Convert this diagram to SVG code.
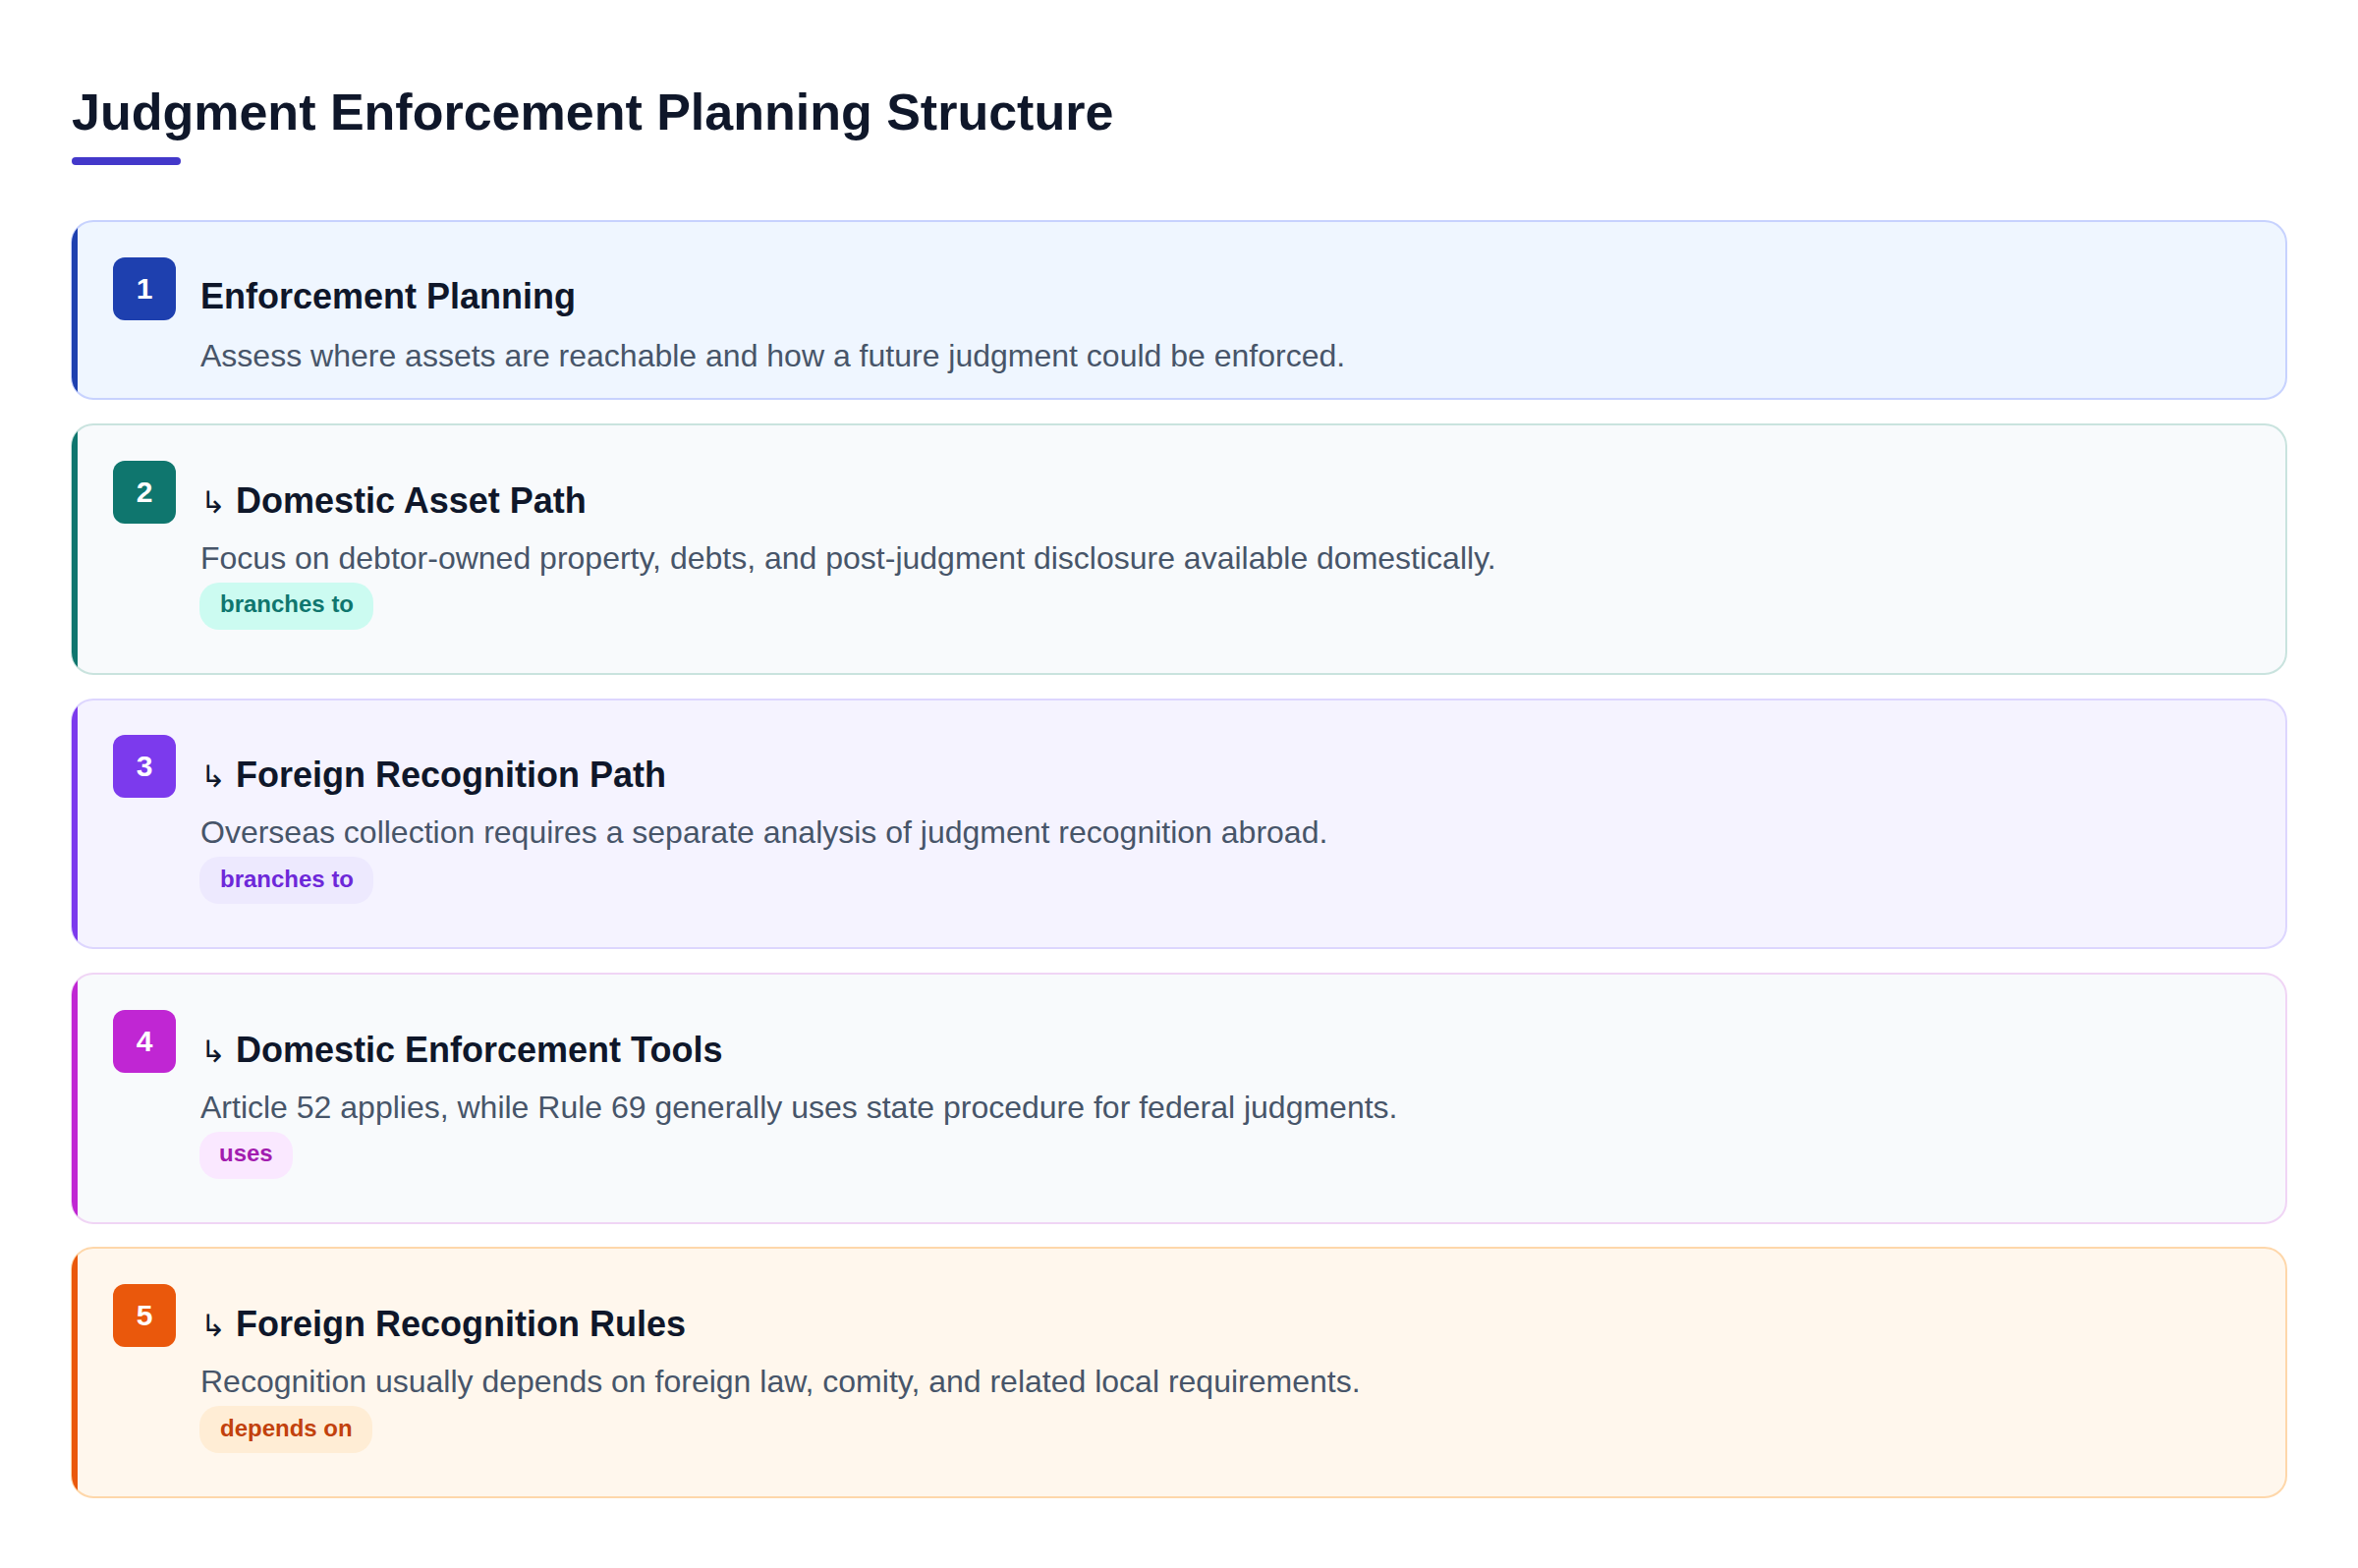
<svg xmlns="http://www.w3.org/2000/svg" width="2400" height="1596" viewBox="0 0 2400 1596">
<style>
.title{font-family:"Liberation Sans",Arial,sans-serif;font-weight:700;font-size:52px;fill:#0f172a}
.ntitle{font-family:"Liberation Sans",Arial,sans-serif;font-weight:700;font-size:36px;fill:#0f172a}
.arr{font-weight:400;font-size:31px}
.desc{font-family:"Liberation Sans",Arial,sans-serif;font-size:32px;fill:#475569}
.num{font-family:"Liberation Sans",Arial,sans-serif;font-weight:700;font-size:30px;fill:#ffffff;text-anchor:middle}
.pill{font-family:"Liberation Sans",Arial,sans-serif;font-weight:700;font-size:24px}
.card{stroke-width:2}
</style>
<defs>
<clipPath id="c1"><rect x="73" y="225" width="2254" height="181" rx="22"/></clipPath>
<clipPath id="c2"><rect x="73" y="432" width="2254" height="254" rx="22"/></clipPath>
<clipPath id="c3"><rect x="73" y="712" width="2254" height="253" rx="22"/></clipPath>
<clipPath id="c4"><rect x="73" y="991" width="2254" height="254" rx="22"/></clipPath>
<clipPath id="c5"><rect x="73" y="1270" width="2254" height="254" rx="22"/></clipPath>
</defs>
<rect width="2400" height="1596" fill="#ffffff"/>
<g id="header">
<text class="title" x="73" y="132">Judgment Enforcement Planning Structure</text>
<rect x="73" y="160" width="111" height="8" rx="4" fill="#4338ca"/>
</g>
<g id="connectors"></g>
<g id="node-1">
<rect class="card" x="73" y="225" width="2254" height="181" rx="22" fill="#eff6ff" stroke="#c7d2fe"/>
<rect x="72" y="224" width="7" height="184" fill="#1e40af" clip-path="url(#c1)"/>
<rect x="115" y="262" width="64" height="64" rx="12" fill="#1e40af"/>
<text class="num" x="147" y="304">1</text>
<text class="ntitle" x="204" y="314">Enforcement Planning</text>
<text class="desc" x="204" y="373">Assess where assets are reachable and how a future judgment could be enforced.</text>
</g>
<g id="node-2">
<rect class="card" x="73" y="432" width="2254" height="254" rx="22" fill="#f8fafc" stroke="#c9e3de"/>
<rect x="72" y="431" width="7" height="257" fill="#0f766e" clip-path="url(#c2)"/>
<rect x="115" y="469" width="64" height="64" rx="12" fill="#0f766e"/>
<text class="num" x="147" y="511">2</text>
<text class="ntitle" x="204" y="522"><tspan class="arr">↳</tspan> Domestic Asset Path</text>
<text class="desc" x="204" y="579">Focus on debtor-owned property, debts, and post-judgment disclosure available domestically.</text>
<rect x="203" y="593" width="177" height="48" rx="20" fill="#ccfbf1"/>
<text class="pill" x="224" y="623" fill="#0f766e">branches to</text>
</g>
<g id="node-3">
<rect class="card" x="73" y="712" width="2254" height="253" rx="22" fill="#f5f3ff" stroke="#ddd6fe"/>
<rect x="72" y="711" width="7" height="256" fill="#7c3aed" clip-path="url(#c3)"/>
<rect x="115" y="748" width="64" height="64" rx="12" fill="#7c3aed"/>
<text class="num" x="147" y="790">3</text>
<text class="ntitle" x="204" y="801"><tspan class="arr">↳</tspan> Foreign Recognition Path</text>
<text class="desc" x="204" y="858">Overseas collection requires a separate analysis of judgment recognition abroad.</text>
<rect x="203" y="872" width="177" height="48" rx="20" fill="#ede9fe"/>
<text class="pill" x="224" y="903" fill="#6d28d9">branches to</text>
</g>
<g id="node-4">
<rect class="card" x="73" y="991" width="2254" height="254" rx="22" fill="#f8fafc" stroke="#f0d5f5"/>
<rect x="72" y="990" width="7" height="257" fill="#c026d3" clip-path="url(#c4)"/>
<rect x="115" y="1028" width="64" height="64" rx="12" fill="#c026d3"/>
<text class="num" x="147" y="1070">4</text>
<text class="ntitle" x="204" y="1081"><tspan class="arr">↳</tspan> Domestic Enforcement Tools</text>
<text class="desc" x="204" y="1138">Article 52 applies, while Rule 69 generally uses state procedure for federal judgments.</text>
<rect x="203" y="1152" width="95" height="48" rx="20" fill="#fae8ff"/>
<text class="pill" x="223" y="1182" fill="#a21caf">uses</text>
</g>
<g id="node-5">
<rect class="card" x="73" y="1270" width="2254" height="254" rx="22" fill="#fff7ed" stroke="#fed7aa"/>
<rect x="72" y="1269" width="7" height="257" fill="#ea580c" clip-path="url(#c5)"/>
<rect x="115" y="1307" width="64" height="64" rx="12" fill="#ea580c"/>
<text class="num" x="147" y="1349">5</text>
<text class="ntitle" x="204" y="1360"><tspan class="arr">↳</tspan> Foreign Recognition Rules</text>
<text class="desc" x="204" y="1417">Recognition usually depends on foreign law, comity, and related local requirements.</text>
<rect x="203" y="1431" width="176" height="48" rx="20" fill="#ffedd5"/>
<text class="pill" x="224" y="1462" fill="#c2410c">depends on</text>
</g>
</svg>
